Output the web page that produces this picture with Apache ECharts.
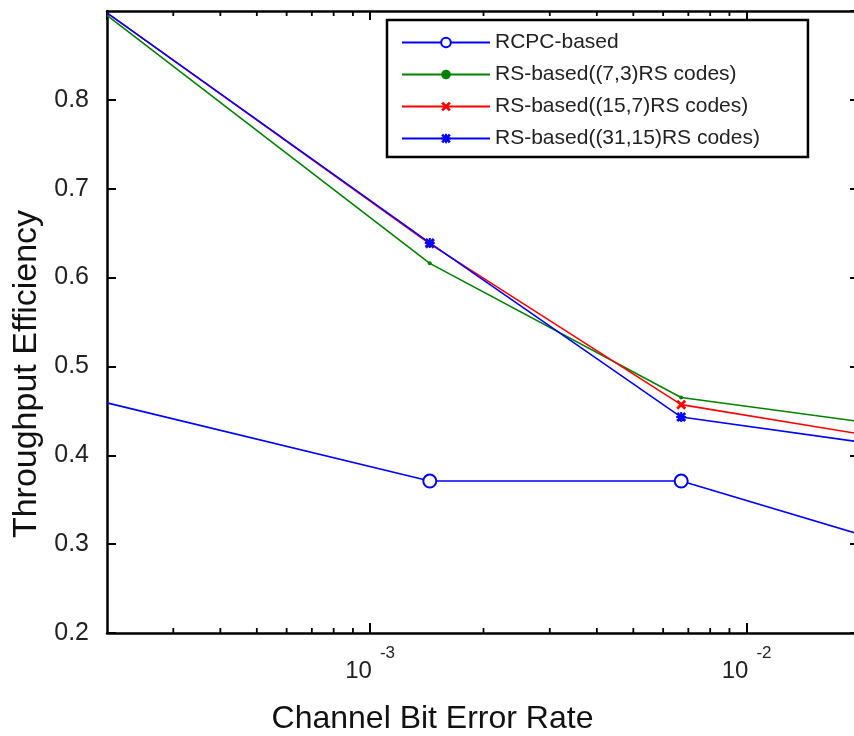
<!DOCTYPE html>
<html>
<head>
<meta charset="utf-8">
<script src="https://cdn.jsdelivr.net/npm/echarts@6/dist/echarts.min.js"></script>
<style>
html,body{margin:0;padding:0;background:#fff;}
#chart{width:854px;height:736px;}
</style>
</head>
<body>
<div id="chart"></div>
<script>
// ---- data ----
const berValues = [2e-4, 1.44e-3, 6.7e-3, 2e-2];
const rcpcBased = [0.459, 0.371, 0.371, 0.311];
const rs73Based = [0.895, 0.616, 0.465, 0.438];
const rs157Based = [0.898, 0.638, 0.457, 0.424];
const rs3115Based = [0.898, 0.639, 0.443, 0.415];
const seriesNames = ['RCPC-based', 'RS-based((7,3)RS codes)', 'RS-based((15,7)RS codes)', 'RS-based((31,15)RS codes)'];
const minorTickValues = [3e-4, 4e-4, 5e-4, 6e-4, 7e-4, 8e-4, 9e-4, 2e-3, 3e-3, 4e-3, 5e-3, 6e-3, 7e-3, 8e-3, 9e-3];
const xMin = 2e-4, xMax = 2e-2, yMin = 0.2, yMax = 0.9, yStep = 0.1;

const FONT = "'Liberation Sans', Arial, sans-serif";
const crossPath = 'path://M2,0 L5,3 L8,0 L10,2 L7,5 L10,8 L8,10 L5,7 L2,10 L0,8 L3,5 L0,2 Z';
const starPath = 'path://M2,0 L5,3 L8,0 L10,2 L7,5 L10,8 L8,10 L5,7 L2,10 L0,8 L3,5 L0,2 Z M4,0 L6,0 L6,4 L10,4 L10,6 L6,6 L6,10 L4,10 L4,6 L0,6 L0,4 L4,4 Z';

function buildData(ys) {
  const last = ys.length - 1;
  return berValues.map((x, i) => {
    const item = { value: [x, ys[i]] };
    if (i === 0 || i === last) item.symbol = 'none';
    return item;
  });
}

function xLabel(v) {
  const e = Math.log10(v);
  const r = Math.round(e);
  if (Math.abs(e - r) > 1e-6) return '';
  return '{b|10}{s|' + r + '}';
}

const lineBase = (name, ys, color, symbol, size, extra) => Object.assign({
  name: name,
  type: 'line',
  data: buildData(ys),
  symbol: symbol,
  symbolSize: size,
  showAllSymbol: true,
  lineStyle: { color: color, width: 1.6 },
  itemStyle: { color: color },
  emphasis: { disabled: true },
  z: 3
}, extra || {});

const chart = echarts.init(document.getElementById('chart'), null, { renderer: 'canvas' });
chart.setOption({
  animation: false,
  backgroundColor: '#fff',
  textStyle: { fontFamily: FONT },
  grid: { left: 107, right: -6, top: 11, bottom: 103, containLabel: false, outerBoundsMode: 'none' },
  legend: {
    orient: 'vertical',
    left: 387,
    top: 20,
    data: seriesNames,
    itemWidth: 88,
    itemHeight: 12,
    itemGap: 11,
    padding: [12, 48, 8, 14],
    borderColor: '#000',
    borderWidth: 2.5,
    backgroundColor: '#fff',
    textStyle: { fontFamily: FONT, fontSize: 21, lineHeight: 20, color: '#222' },
    selectedMode: false
  },
  xAxis: [{
    type: 'log',
    logBase: 10,
    min: xMin,
    max: xMax,
    name: 'Channel Bit Error Rate',
    nameLocation: 'middle',
    nameGap: 70,
    nameTextStyle: { fontFamily: FONT, fontSize: 32, color: '#111', padding: [0, 102, 0, 0] },
    axisLine: { show: true, lineStyle: { color: '#000', width: 2.5 } },
    axisTick: { show: true, inside: true, length: 10, lineStyle: { color: '#000', width: 2 } },
    axisLabel: {
      showMinLabel: false, showMaxLabel: false,
      margin: 12,
      formatter: xLabel,
      rich: {
        b: { fontFamily: FONT, fontSize: 24, color: '#222', verticalAlign: 'bottom', lineHeight: 38 },
        s: { fontFamily: FONT, fontSize: 17, color: '#222', verticalAlign: 'top', lineHeight: 36, padding: [0, 0, 0, 8] }
      }
    },
    splitLine: { show: false },
    minorTick: { show: false }
  }, {
    type: 'log',
    logBase: 10,
    min: xMin,
    max: xMax,
    position: 'top',
    axisLine: { show: true, lineStyle: { color: '#000', width: 2.5 } },
    axisTick: { show: true, inside: true, length: 9, lineStyle: { color: '#000', width: 2 } },
    axisLabel: { show: false },
    splitLine: { show: false }
  }],
  yAxis: [{
    type: 'value',
    min: yMin,
    max: yMax,
    interval: yStep,
    name: 'Throughput Efficiency',
    nameLocation: 'middle',
    nameGap: 58,
    nameRotate: 90,
    nameTextStyle: { fontFamily: FONT, fontSize: 34, color: '#111', padding: [0, 104, 0, 0] },
    axisLine: { show: true, lineStyle: { color: '#000', width: 2.5 } },
    axisTick: { show: true, inside: true, length: 9, lineStyle: { color: '#000', width: 2 } },
    axisLabel: {
      showMaxLabel: false,
      margin: 18,
      fontFamily: FONT, fontSize: 25, color: '#222',
      formatter: v => v.toFixed(1)
    },
    splitLine: { show: false }
  }, {
    type: 'value',
    min: yMin,
    max: yMax,
    interval: yStep,
    position: 'right',
    axisLine: { show: true, lineStyle: { color: '#000', width: 2.5 } },
    axisTick: { show: true, inside: true, length: 10, lineStyle: { color: '#000', width: 2 } },
    axisLabel: { show: false },
    splitLine: { show: false }
  }],
  series: [
    lineBase(seriesNames[0], rcpcBased, '#0000ff', 'emptyCircle', 13, { itemStyle: { color: '#0000ff', borderWidth: 1.5 } }),
    lineBase(seriesNames[1], rs73Based, '#008000', 'circle', 4),
    lineBase(seriesNames[2], rs157Based, '#ff0000', crossPath, 10),
    lineBase(seriesNames[3], rs3115Based, '#0000ff', starPath, 10),
    {
      name: 'minorTicks',
      type: 'custom',
      silent: true,
      data: minorTickValues.map(v => [v, yMin]),
      renderItem: function (params, api) {
        const x = api.value(0);
        const b = api.coord([x, yMin]);
        const t = api.coord([x, yMax]);
        return {
          type: 'group',
          children: [
            { type: 'line', shape: { x1: b[0], y1: b[1], x2: b[0], y2: b[1] - 5 }, style: { stroke: '#000', lineWidth: 1.8 } },
            { type: 'line', shape: { x1: t[0], y1: t[1], x2: t[0], y2: t[1] + 5 }, style: { stroke: '#000', lineWidth: 1.8 } }
          ]
        };
      },
      z: 1
    }
  ]
});
</script>
</body>
</html>
